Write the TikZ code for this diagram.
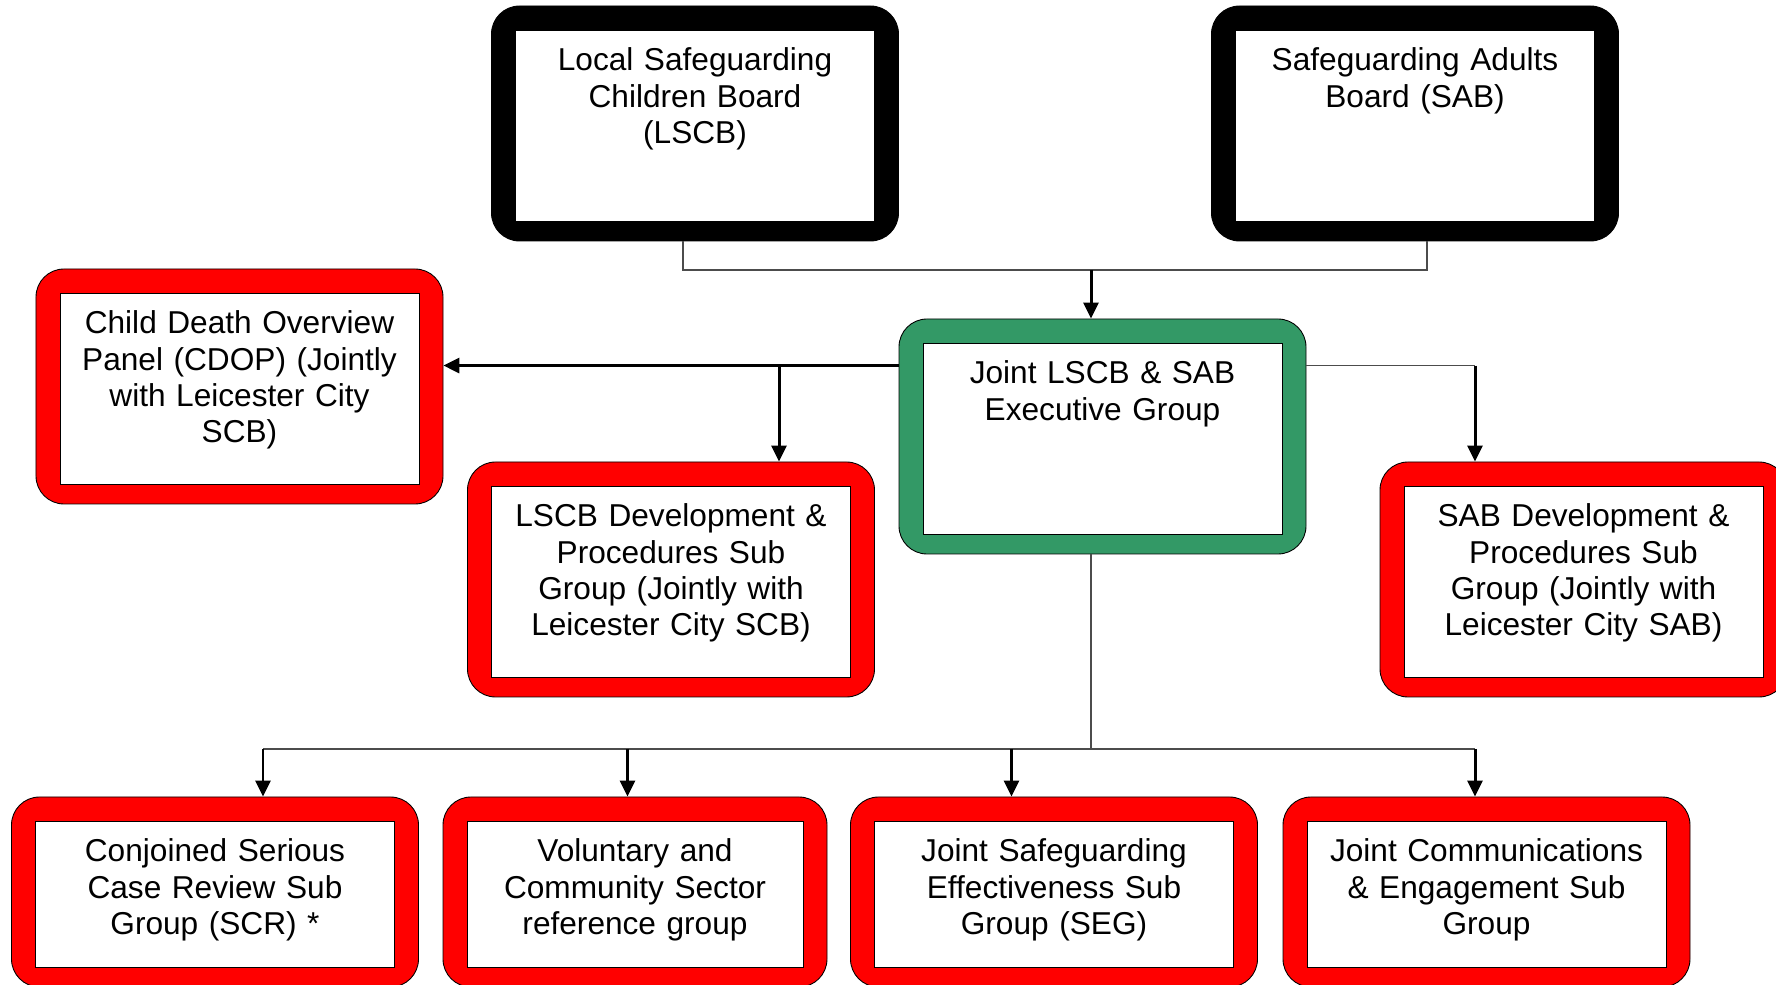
\documentclass[tikz,border=0pt]{standalone}
\usepackage{fontspec}
\setmainfont{Liberation Sans}
\usetikzlibrary{arrows.meta}
\definecolor{subred}{HTML}{FF0000}
\definecolor{execgreen}{HTML}{339966}

\tikzset{
  panel/.style={rectangle, rounded corners=0.56cm, draw=black, line width=0.5pt,
    fill=#1, inner sep=0pt, text width=8.14cm, align=center,
    text height=1.3cm, text depth=3.4cm,
    font=\fontsize{18}{20.6}\selectfont,
    path picture={\draw[sharp corners, fill=white, line width=0.5pt]
      ([xshift=0.48cm,yshift=-0.48cm]path picture bounding box.north west) rectangle
      ([xshift=-0.48cm,yshift=0.40cm]path picture bounding box.south east);}},
  boardbox/.style={panel=black},
  execbox/.style={panel=execgreen},
  subbox/.style={panel=subred},
  lowbox/.style={panel=subred, text depth=2.5cm},
  link/.style={draw=black!70, line width=0.7pt},
  feed/.style={draw=black, line width=1.7pt, -{Triangle[length=0.32cm,width=0.3cm]}},
}

\begin{document}
\begin{tikzpicture}
    \useasboundingbox (0,0) rectangle (35.52,-19.70);
    \clip (0,0) rectangle (35.52,-19.70);

    % boards
    \node[boardbox] (lscb) at (13.90,-2.47) {Local Safeguarding\\Children Board\\(LSCB)};
    \node[boardbox] (sab)  at (28.30,-2.47) {Safeguarding Adults\\Board (SAB)};

    % executive and groups below it
    \node[execbox] (exec)    at (22.05,-8.73)  {Joint LSCB \& SAB\\Executive Group};
    \node[subbox]  (cdop)    at (4.79,-7.73)   {Child Death Overview\\Panel (CDOP) (Jointly\\with Leicester City\\SCB)};
    \node[subbox]  (lscbdev) at (13.42,-11.59) {LSCB Development \&\\Procedures Sub\\Group (Jointly with\\Leicester City SCB)};
    \node[subbox]  (sabdev)  at (31.67,-11.59) {SAB Development \&\\Procedures Sub\\Group (Jointly with\\Leicester City SAB)};

    \node[lowbox] (scr)   at (4.30,-17.84)  {Conjoined Serious\\Case Review Sub\\Group (SCR) *};
    \node[lowbox, text width=7.68cm] (vcs) at (12.70,-17.84) {Voluntary and\\Community Sector\\reference group};
    \node[lowbox] (seg)   at (21.08,-17.84) {Joint Safeguarding\\Effectiveness Sub\\Group (SEG)};
    \node[lowbox] (comms) at (29.73,-17.84) {Joint Communications\\\& Engagement Sub\\Group};

    % boards to executive
    \coordinate (boardjoin) at (21.82,-5.40);
    \draw[link] ([xshift=-0.24cm]lscb.south) |- (boardjoin) -| ([xshift=0.24cm]sab.south);
    \draw[feed] (boardjoin) -- (boardjoin |- exec.north);

    % executive to side groups
    \coordinate (execleft)  at ([yshift=-0.94cm]exec.north west);
    \coordinate (execright) at ([yshift=-0.94cm]exec.north east);
    \coordinate (cdopfork)  at (15.58,0 |- execleft);
    \coordinate (sabfork)   at (29.50,0 |- execright);
    \draw[feed] (execleft) -- (cdop.east |- execleft);
    \draw[feed] (cdopfork) -- (cdopfork |- lscbdev.north);
    \draw[link] (execright) -- (sabfork);
    \draw[feed] (sabfork) -- (sabfork |- sabdev.north);

    % executive to bottom row
    \coordinate (subjoin)   at (21.82,-14.98);
    \coordinate (scrfork)   at (5.26,-14.98);
    \coordinate (vcsfork)   at (12.55,-14.98);
    \coordinate (segfork)   at (20.23,-14.98);
    \coordinate (commsfork) at (29.50,-14.98);
    \draw[link] (exec.south -| subjoin) -- (subjoin);
    \draw[link] (scrfork) -- (commsfork);
    \draw[feed] (scrfork) -- (scrfork |- scr.north);
    \draw[feed] (vcsfork) -- (vcsfork |- vcs.north);
    \draw[feed] (segfork) -- (segfork |- seg.north);
    \draw[feed] (commsfork) -- (commsfork |- comms.north);
\end{tikzpicture}
\end{document}
